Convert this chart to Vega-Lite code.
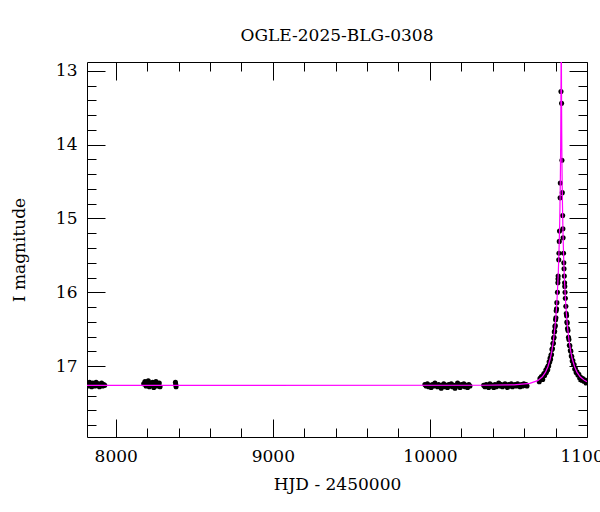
{
  "$schema": "https://vega.github.io/schema/vega-lite/v6.json",
  "width": 500,
  "height": 375,
  "autosize": {"type": "none"},
  "padding": {"left": 87, "top": 62, "right": 13, "bottom": 75},
  "background": "white",
  "title": {"text": "OGLE-2025-BLG-0308", "anchor": "middle", "font": "DejaVu Serif", "fontSize": 17, "fontWeight": "normal", "color": "black", "baseline": "alphabetic", "offset": 4},
  "config": {
    "view": {"stroke": null},
    "axis": {"grid": false, "domainColor": "black", "domainWidth": 1, "tickColor": "black", "tickWidth": 1, "labelFont": "DejaVu Serif", "labelFontSize": 17, "labelColor": "black", "titleFont": "DejaVu Serif", "titleFontSize": 17, "titleFontWeight": "normal", "titleColor": "black", "labelOverlap": false, "labelFlush": false}
  },
  "datasets": {
    "obs": [
      {"hjd": 7819, "mag": 17.24}, {"hjd": 7826, "mag": 17.27}, {"hjd": 7833, "mag": 17.22}, {"hjd": 7840, "mag": 17.26}, {"hjd": 7847, "mag": 17.28}, {"hjd": 7854, "mag": 17.23}, {"hjd": 7861, "mag": 17.25}, {"hjd": 7868, "mag": 17.27}, {"hjd": 7875, "mag": 17.22}, {"hjd": 7882, "mag": 17.26}, {"hjd": 7889, "mag": 17.24}, {"hjd": 7896, "mag": 17.28}, {"hjd": 7903, "mag": 17.25}, {"hjd": 7910, "mag": 17.23}, {"hjd": 7917, "mag": 17.27}, {"hjd": 7924, "mag": 17.25}, {"hjd": 7930, "mag": 17.26},
      {"hjd": 8178, "mag": 17.24}, {"hjd": 8186, "mag": 17.21}, {"hjd": 8193, "mag": 17.27}, {"hjd": 8200, "mag": 17.25}, {"hjd": 8207, "mag": 17.2}, {"hjd": 8214, "mag": 17.28}, {"hjd": 8221, "mag": 17.23}, {"hjd": 8228, "mag": 17.26}, {"hjd": 8235, "mag": 17.22}, {"hjd": 8242, "mag": 17.29}, {"hjd": 8249, "mag": 17.24}, {"hjd": 8256, "mag": 17.21}, {"hjd": 8263, "mag": 17.27}, {"hjd": 8270, "mag": 17.25}, {"hjd": 8277, "mag": 17.23}, {"hjd": 8282, "mag": 17.28},
      {"hjd": 8380, "mag": 17.22}, {"hjd": 8382, "mag": 17.25}, {"hjd": 8384, "mag": 17.28},
      {"hjd": 9968, "mag": 17.25}, {"hjd": 9976, "mag": 17.27}, {"hjd": 9984, "mag": 17.24}, {"hjd": 9992, "mag": 17.28}, {"hjd": 10000, "mag": 17.26}, {"hjd": 10008, "mag": 17.29}, {"hjd": 10016, "mag": 17.25}, {"hjd": 10024, "mag": 17.27}, {"hjd": 10032, "mag": 17.23}, {"hjd": 10040, "mag": 17.26}, {"hjd": 10048, "mag": 17.28}, {"hjd": 10056, "mag": 17.25}, {"hjd": 10064, "mag": 17.27}, {"hjd": 10072, "mag": 17.3}, {"hjd": 10080, "mag": 17.26}, {"hjd": 10088, "mag": 17.24}, {"hjd": 10096, "mag": 17.28}, {"hjd": 10104, "mag": 17.26}, {"hjd": 10112, "mag": 17.29}, {"hjd": 10120, "mag": 17.25}, {"hjd": 10128, "mag": 17.27}, {"hjd": 10136, "mag": 17.24}, {"hjd": 10144, "mag": 17.28}, {"hjd": 10152, "mag": 17.26}, {"hjd": 10160, "mag": 17.3}, {"hjd": 10168, "mag": 17.27}, {"hjd": 10176, "mag": 17.23}, {"hjd": 10184, "mag": 17.26}, {"hjd": 10192, "mag": 17.29}, {"hjd": 10200, "mag": 17.25}, {"hjd": 10208, "mag": 17.27}, {"hjd": 10216, "mag": 17.24}, {"hjd": 10224, "mag": 17.28}, {"hjd": 10232, "mag": 17.26}, {"hjd": 10240, "mag": 17.29}, {"hjd": 10248, "mag": 17.25}, {"hjd": 10255, "mag": 17.27},
      {"hjd": 10342, "mag": 17.26}, {"hjd": 10350, "mag": 17.28}, {"hjd": 10358, "mag": 17.25}, {"hjd": 10366, "mag": 17.27}, {"hjd": 10374, "mag": 17.29}, {"hjd": 10382, "mag": 17.24}, {"hjd": 10390, "mag": 17.27}, {"hjd": 10398, "mag": 17.26}, {"hjd": 10406, "mag": 17.29}, {"hjd": 10414, "mag": 17.25}, {"hjd": 10422, "mag": 17.28}, {"hjd": 10430, "mag": 17.26}, {"hjd": 10438, "mag": 17.23}, {"hjd": 10446, "mag": 17.27}, {"hjd": 10454, "mag": 17.25}, {"hjd": 10462, "mag": 17.28}, {"hjd": 10470, "mag": 17.26}, {"hjd": 10478, "mag": 17.24}, {"hjd": 10486, "mag": 17.27}, {"hjd": 10494, "mag": 17.29}, {"hjd": 10502, "mag": 17.25}, {"hjd": 10510, "mag": 17.27}, {"hjd": 10518, "mag": 17.24}, {"hjd": 10526, "mag": 17.28}, {"hjd": 10534, "mag": 17.26}, {"hjd": 10542, "mag": 17.25}, {"hjd": 10550, "mag": 17.27}, {"hjd": 10558, "mag": 17.24}, {"hjd": 10566, "mag": 17.26}, {"hjd": 10574, "mag": 17.28}, {"hjd": 10582, "mag": 17.25}, {"hjd": 10590, "mag": 17.27}, {"hjd": 10598, "mag": 17.24}, {"hjd": 10606, "mag": 17.26}, {"hjd": 10612, "mag": 17.25}, {"hjd": 10618, "mag": 17.27},
      {"hjd": 10696, "mag": 17.21}, {"hjd": 10701, "mag": 17.165}, {"hjd": 10706, "mag": 17.18}, {"hjd": 10710, "mag": 17.14}, {"hjd": 10714, "mag": 17.16}, {"hjd": 10718, "mag": 17.18}, {"hjd": 10722, "mag": 17.125}, {"hjd": 10726, "mag": 17.1}, {"hjd": 10730, "mag": 17.126}, {"hjd": 10734, "mag": 17.098}, {"hjd": 10738, "mag": 17.052}, {"hjd": 10741, "mag": 17.087}, {"hjd": 10744, "mag": 17.062}, {"hjd": 10747, "mag": 17.018}, {"hjd": 10750, "mag": 17.048}, {"hjd": 10753, "mag": 16.994}, {"hjd": 10756, "mag": 16.997}, {"hjd": 10759, "mag": 16.941}, {"hjd": 10762, "mag": 16.949}, {"hjd": 10765, "mag": 16.892}, {"hjd": 10768, "mag": 16.909}, {"hjd": 10771, "mag": 16.849}, {"hjd": 10774, "mag": 16.843}, {"hjd": 10777, "mag": 16.773}, {"hjd": 10780, "mag": 16.762}, {"hjd": 10783, "mag": 16.695}, {"hjd": 10786, "mag": 16.689}, {"hjd": 10788, "mag": 16.621}, {"hjd": 10790, "mag": 16.608}, {"hjd": 10792, "mag": 16.536}, {"hjd": 10794, "mag": 16.528}, {"hjd": 10796, "mag": 16.465}, {"hjd": 10798, "mag": 16.451}, {"hjd": 10800, "mag": 16.373}, {"hjd": 10802, "mag": 16.344}, {"hjd": 10804, "mag": 16.251}, {"hjd": 10806, "mag": 16.223},
      {"hjd": 10808.1, "mag": 16.14}, {"hjd": 10811.8, "mag": 16.0}, {"hjd": 10814.6, "mag": 15.87}, {"hjd": 10815.6, "mag": 15.82}, {"hjd": 10816.4, "mag": 15.78}, {"hjd": 10820.2, "mag": 15.56}, {"hjd": 10821.4, "mag": 15.47}, {"hjd": 10823.6, "mag": 15.31}, {"hjd": 10825.1, "mag": 15.17}, {"hjd": 10829, "mag": 14.72}, {"hjd": 10830.1, "mag": 14.52}, {"hjd": 10834.3, "mag": 13.28},
      {"hjd": 10838.1, "mag": 13.44}, {"hjd": 10840.4, "mag": 14.21}, {"hjd": 10842.6, "mag": 14.65}, {"hjd": 10845, "mag": 14.96}, {"hjd": 10846.6, "mag": 15.14}, {"hjd": 10847.9, "mag": 15.26}, {"hjd": 10850.6, "mag": 15.47}, {"hjd": 10852.4, "mag": 15.6}, {"hjd": 10853.8, "mag": 15.68}, {"hjd": 10855.6, "mag": 15.78}, {"hjd": 10857.4, "mag": 15.87}, {"hjd": 10858.4, "mag": 15.92}, {"hjd": 10860.2, "mag": 16.0}, {"hjd": 10862.1, "mag": 16.08}, {"hjd": 10865.3, "mag": 16.19},
      {"hjd": 10868, "mag": 16.286}, {"hjd": 10870, "mag": 16.319}, {"hjd": 10872, "mag": 16.403}, {"hjd": 10874, "mag": 16.416}, {"hjd": 10876, "mag": 16.49}, {"hjd": 10879, "mag": 16.517}, {"hjd": 10882, "mag": 16.608}, {"hjd": 10885, "mag": 16.64}, {"hjd": 10888, "mag": 16.717}, {"hjd": 10891, "mag": 16.723}, {"hjd": 10894, "mag": 16.789}, {"hjd": 10897, "mag": 16.797}, {"hjd": 10900, "mag": 16.864}, {"hjd": 10903, "mag": 16.869}, {"hjd": 10906, "mag": 16.93}, {"hjd": 10910, "mag": 16.924}, {"hjd": 10914, "mag": 16.978}, {"hjd": 10918, "mag": 16.977}, {"hjd": 10922, "mag": 17.038}, {"hjd": 10926, "mag": 17.033}, {"hjd": 10931, "mag": 17.087}, {"hjd": 10936, "mag": 17.077}, {"hjd": 10942, "mag": 17.121}, {"hjd": 10948, "mag": 17.109}, {"hjd": 10954, "mag": 17.163}, {"hjd": 10960, "mag": 17.15}, {"hjd": 10966, "mag": 17.191}, {"hjd": 10973, "mag": 17.168}, {"hjd": 10980, "mag": 17.205}, {"hjd": 10987, "mag": 17.187}, {"hjd": 10994, "mag": 17.227}
    ],
    "model": [
      {"hjd": 7817, "mag": 17.26}, {"hjd": 10336, "mag": 17.259}, {"hjd": 10536, "mag": 17.253}, {"hjd": 10636, "mag": 17.233}, {"hjd": 10686, "mag": 17.196}, {"hjd": 10716, "mag": 17.144}, {"hjd": 10736, "mag": 17.0815}, {"hjd": 10751, "mag": 17.0085}, {"hjd": 10766, "mag": 16.9}, {"hjd": 10776, "mag": 16.797}, {"hjd": 10786, "mag": 16.659}, {"hjd": 10796, "mag": 16.47}, {"hjd": 10801, "mag": 16.349}, {"hjd": 10806, "mag": 16.203}, {"hjd": 10810, "mag": 16.063}, {"hjd": 10814, "mag": 15.895}, {"hjd": 10818, "mag": 15.688}, {"hjd": 10821, "mag": 15.498}, {"hjd": 10824, "mag": 15.262}, {"hjd": 10826, "mag": 15.068}, {"hjd": 10828, "mag": 14.83}, {"hjd": 10830, "mag": 14.524}, {"hjd": 10831, "mag": 14.33}, {"hjd": 10832, "mag": 14.095}, {"hjd": 10833, "mag": 13.798}, {"hjd": 10834, "mag": 13.397}, {"hjd": 10834.5, "mag": 13.134}, {"hjd": 10835, "mag": 12.815}, {"hjd": 10835.5, "mag": 12.46}, {"hjd": 10836, "mag": 12.26},
      {"hjd": 10836.5, "mag": 12.46}, {"hjd": 10837, "mag": 12.815}, {"hjd": 10837.5, "mag": 13.134}, {"hjd": 10838, "mag": 13.397}, {"hjd": 10839, "mag": 13.798}, {"hjd": 10840, "mag": 14.095}, {"hjd": 10841, "mag": 14.33}, {"hjd": 10842, "mag": 14.524}, {"hjd": 10844, "mag": 14.83}, {"hjd": 10846, "mag": 15.068}, {"hjd": 10848, "mag": 15.262}, {"hjd": 10851, "mag": 15.498}, {"hjd": 10854, "mag": 15.688}, {"hjd": 10858, "mag": 15.895}, {"hjd": 10862, "mag": 16.063}, {"hjd": 10866, "mag": 16.203}, {"hjd": 10871, "mag": 16.349}, {"hjd": 10876, "mag": 16.47}, {"hjd": 10886, "mag": 16.659}, {"hjd": 10896, "mag": 16.797}, {"hjd": 10906, "mag": 16.9}, {"hjd": 10921, "mag": 17.0085}, {"hjd": 10936, "mag": 17.0815}, {"hjd": 10956, "mag": 17.144}, {"hjd": 10986, "mag": 17.196}, {"hjd": 11000, "mag": 17.21}
    ]
  },
  "resolve": {"axis": {"x": "independent", "y": "independent"}},
  "layer": [
    {
      "data": {"name": "obs"},
      "mark": {"type": "circle", "color": "black", "size": 26, "opacity": 1, "clip": true},
      "encoding": {
        "x": {"field": "hjd", "type": "quantitative", "scale": {"domain": [7817, 11000], "nice": false, "zero": false},
          "axis": {"orient": "bottom", "title": "HJD - 2450000", "values": [8000, 8200, 8400, 8600, 8800, 9000, 9200, 9400, 9600, 9800, 10000, 10200, 10400, 10600, 10800, 11000],
            "labelExpr": "datum.value % 1000 === 0 ? format(datum.value, 'd') : ''",
            "tickSize": {"condition": {"test": "datum.value % 1000 === 0", "value": -18}, "value": -9},
            "labelPadding": 29, "titlePadding": 3}},
        "y": {"field": "mag", "type": "quantitative", "scale": {"domain": [12.88, 17.96], "nice": false, "zero": false, "reverse": true},
          "axis": {"orient": "left", "title": "I magnitude", "values": [13, 13.2, 13.4, 13.6, 13.8, 14, 14.2, 14.4, 14.6, 14.8, 15, 15.2, 15.4, 15.6, 15.8, 16, 16.2, 16.4, 16.6, 16.8, 17, 17.2, 17.4, 17.6, 17.8],
            "labelExpr": "abs(datum.value - round(datum.value)) < 0.001 ? format(datum.value, 'd') : ''",
            "tickSize": {"condition": {"test": "abs(datum.value - round(datum.value)) < 0.001", "value": -18}, "value": -9},
            "labelPadding": 28, "titlePadding": 27}}
      }
    },
    {
      "data": {"name": "model"},
      "mark": {"type": "line", "color": "#ff00ff", "strokeWidth": 1.2, "clip": true},
      "encoding": {
        "x": {"field": "hjd", "type": "quantitative",
          "axis": {"orient": "top", "title": null, "labels": false, "values": [8000, 8200, 8400, 8600, 8800, 9000, 9200, 9400, 9600, 9800, 10000, 10200, 10400, 10600, 10800, 11000],
            "tickSize": {"condition": {"test": "datum.value % 1000 === 0", "value": -18}, "value": -9}}},
        "y": {"field": "mag", "type": "quantitative",
          "axis": {"orient": "right", "title": null, "labels": false, "values": [13, 13.2, 13.4, 13.6, 13.8, 14, 14.2, 14.4, 14.6, 14.8, 15, 15.2, 15.4, 15.6, 15.8, 16, 16.2, 16.4, 16.6, 16.8, 17, 17.2, 17.4, 17.6, 17.8],
            "tickSize": {"condition": {"test": "abs(datum.value - round(datum.value)) < 0.001", "value": -18}, "value": -9}}}
      }
    }
  ]
}
